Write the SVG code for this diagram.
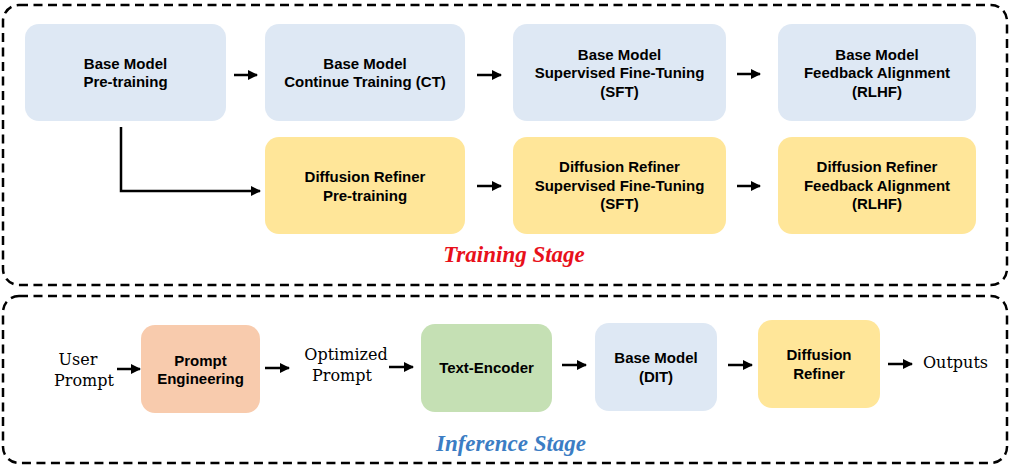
<svg xmlns="http://www.w3.org/2000/svg" width="1028" height="473" viewBox="0 0 1028 473">
<style>
.frame{fill:none;stroke:#000;stroke-width:2.5;stroke-dasharray:9 5.5}
.blue{fill:#DEE8F4}
.yellow{fill:#FFE699}
.peach{fill:#F8CBAD}
.green{fill:#C5E0B4}
.lbl{font-family:"Liberation Sans",Arial,sans-serif;font-weight:bold;font-size:15px;fill:#000;text-anchor:middle}
.serif{font-family:"DejaVu Serif","Liberation Serif",serif;font-size:16px;fill:#000;text-anchor:middle}
.stage{font-family:"Liberation Serif","Times New Roman",serif;font-weight:bold;font-style:italic;font-size:23px;text-anchor:middle}
.conn{fill:none;stroke:#000;stroke-width:2.5;marker-end:url(#ah)}
</style>
<defs>
<marker id="ah" viewBox="0 0 10 10" refX="9" refY="5" markerWidth="4" markerHeight="4" orient="auto" markerUnits="strokeWidth">
<path d="M0,0 L10,5 L0,10 z" fill="#000"/>
</marker>
</defs>
<rect width="1028" height="473" fill="#fff"/>
<g id="training-frame">
<rect class="frame" x="3" y="5" width="1004" height="280" rx="16"/>
<text class="stage" x="514" y="262" fill="#E8101A">Training Stage</text>
</g>
<g id="inference-frame">
<rect class="frame" x="3" y="296" width="1004" height="167" rx="16"/>
<text class="stage" x="511" y="451" fill="#3B7DC4">Inference Stage</text>
</g>
<g id="n-base-pre"><rect class="blue" x="25" y="24" width="201" height="97" rx="14"/><text class="lbl" x="125.5" y="69">Base Model</text><text class="lbl" x="125.5" y="87">Pre-training</text></g>
<g id="n-base-ct"><rect class="blue" x="265" y="24" width="200" height="97" rx="14"/><text class="lbl" x="365" y="69">Base Model</text><text class="lbl" x="365" y="87">Continue Training (CT)</text></g>
<g id="n-base-sft"><rect class="blue" x="513" y="24" width="213" height="97" rx="14"/><text class="lbl" x="619.5" y="60">Base Model</text><text class="lbl" x="619.5" y="78">Supervised Fine-Tuning</text><text class="lbl" x="619.5" y="97">(SFT)</text></g>
<g id="n-base-rlhf"><rect class="blue" x="778" y="24" width="198" height="97" rx="14"/><text class="lbl" x="877" y="60">Base Model</text><text class="lbl" x="877" y="78">Feedback Alignment</text><text class="lbl" x="877" y="97">(RLHF)</text></g>
<g id="n-dr-pre"><rect class="yellow" x="265" y="137" width="200" height="97" rx="14"/><text class="lbl" x="365" y="182">Diffusion Refiner</text><text class="lbl" x="365" y="201">Pre-training</text></g>
<g id="n-dr-sft"><rect class="yellow" x="513" y="137" width="213" height="97" rx="14"/><text class="lbl" x="619.5" y="172">Diffusion Refiner</text><text class="lbl" x="619.5" y="191">Supervised Fine-Tuning</text><text class="lbl" x="619.5" y="209">(SFT)</text></g>
<g id="n-dr-rlhf"><rect class="yellow" x="778" y="137" width="198" height="97" rx="14"/><text class="lbl" x="877" y="172">Diffusion Refiner</text><text class="lbl" x="877" y="191">Feedback Alignment</text><text class="lbl" x="877" y="209">(RLHF)</text></g>
<g id="n-user"><text class="serif" x="78" y="365">User</text><text class="serif" x="84" y="386">Prompt</text></g>
<g id="n-pe"><rect class="peach" x="141" y="325" width="119" height="88" rx="14"/><text class="lbl" x="200.5" y="366">Prompt</text><text class="lbl" x="200.5" y="384">Engineering</text></g>
<g id="n-opt"><text class="serif" x="346" y="360">Optimized</text><text class="serif" x="342" y="381">Prompt</text></g>
<g id="n-te"><rect class="green" x="421" y="324" width="131" height="88" rx="14"/><text class="lbl" x="486.5" y="373">Text-Encoder</text></g>
<g id="n-dit"><rect class="blue" x="595" y="323" width="122" height="88" rx="14"/><text class="lbl" x="656" y="363">Base Model</text><text class="lbl" x="656" y="382">(DIT)</text></g>
<g id="n-dr"><rect class="yellow" x="758" y="320" width="122" height="88" rx="14"/><text class="lbl" x="819" y="360">Diffusion</text><text class="lbl" x="819" y="379">Refiner</text></g>
<g id="n-out"><text class="serif" x="923" y="368" style="text-anchor:start">Outputs</text></g>
<g id="connectors">
<path class="conn" d="M234,75 H257"/>
<path class="conn" d="M477,75 H501"/>
<path class="conn" d="M737,74 H760"/>
<path class="conn" d="M477,186 H501"/>
<path class="conn" d="M737,186 H760"/>
<path class="conn" d="M121,127 V191 H260"/>
<path class="conn" d="M117,369 H140"/>
<path class="conn" d="M265,368 H289"/>
<path class="conn" d="M389,367 H413"/>
<path class="conn" d="M562,365 H586"/>
<path class="conn" d="M728,365 H752"/>
<path class="conn" d="M888,364 H912"/>
</g>
</svg>
